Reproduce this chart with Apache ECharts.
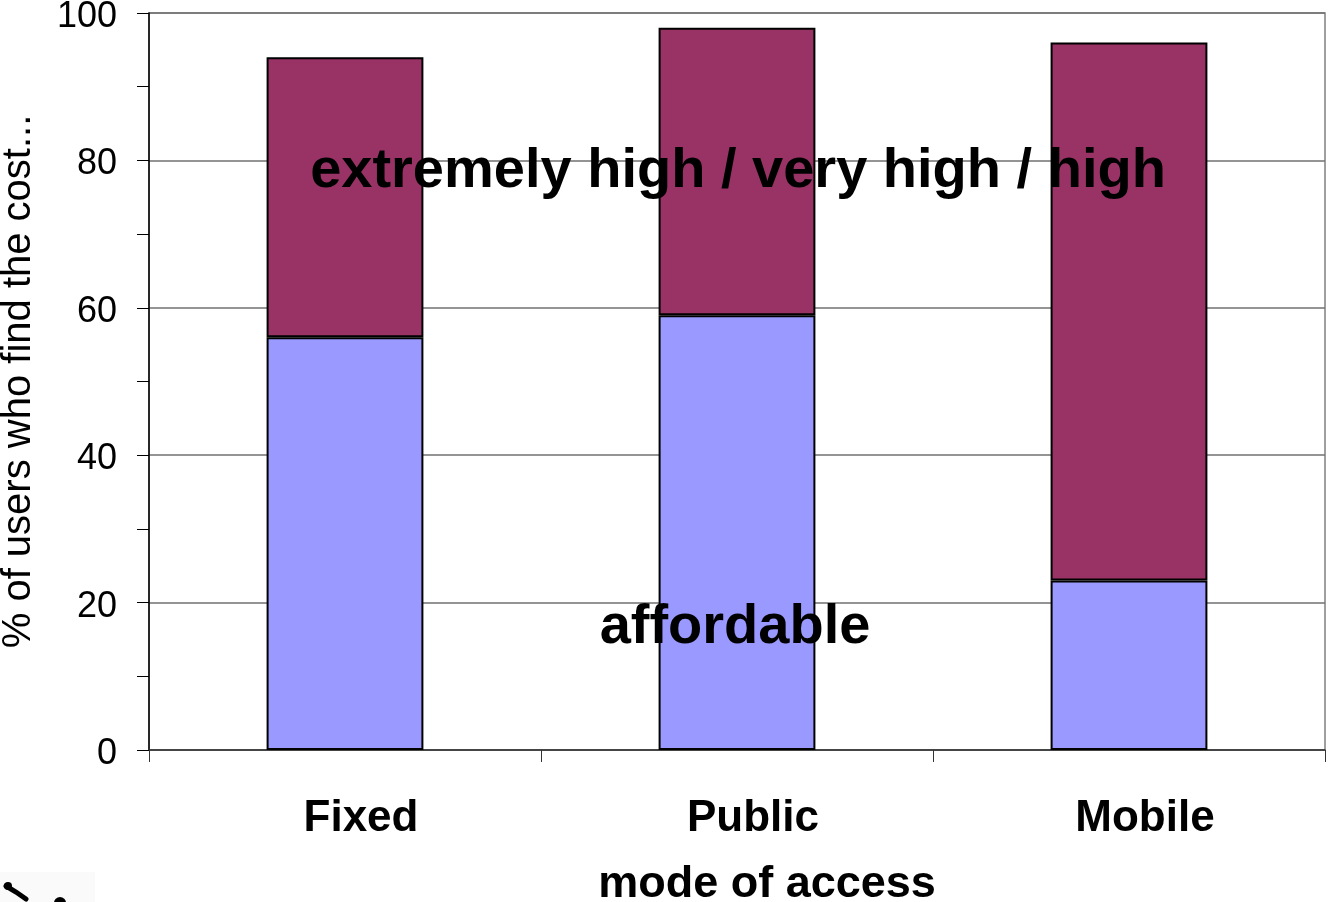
<!DOCTYPE html>
<html>
<head>
<meta charset="utf-8">
<title>Cost of access by mode</title>
<script src="https://cdn.jsdelivr.net/npm/echarts@6/dist/echarts.min.js"></script>
<style>
  html, body { margin: 0; padding: 0; background: #fff; }
  #chart { width: 1328px; height: 902px; }
</style>
</head>
<body>
<div id="chart"></div>
<script>
// Share of users by how they rate the cost, per access mode
const categories = ['Fixed', 'Public', 'Mobile'];
const affordable = [56, 59, 23];
const highCost = [38, 39, 73];
const yTicks = [0, 20, 40, 60, 80, 100];

const FONT = '"Liberation Sans", Arial, sans-serif';
const chart = echarts.init(document.getElementById('chart'), null, { renderer: 'canvas' });

const barStyle = (color) => ({ color: color, borderColor: '#000', borderWidth: 2 });

chart.setOption({
  animation: false,
  backgroundColor: '#fff',
  grid: {
    left: 149, right: 3, top: 13, bottom: 152,
    outerBoundsMode: 'none',
    containLabel: false,
    show: true, borderColor: '#808080', borderWidth: 1.5
  },
  xAxis: {
    type: 'category',
    data: categories,
    axisLine: { lineStyle: { color: '#333', width: 1.5 } },
    axisTick: { show: true, length: 12, lineStyle: { color: '#333', width: 1 } },
    axisLabel: {
      color: '#000', fontFamily: FONT, fontWeight: 'bold', fontSize: 44,
      margin: 47, padding: [0, 0, 0, 32]
    },
    name: 'mode of access',
    nameLocation: 'middle',
    nameGap: 112,
    nameTextStyle: {
      color: '#000', fontFamily: FONT, fontWeight: 'bold', fontSize: 45,
      padding: [0, 0, 0, 60]
    }
  },
  yAxis: {
    type: 'value',
    min: yTicks[0],
    max: yTicks[yTicks.length - 1],
    interval: 20,
    axisLine: { show: true, lineStyle: { color: '#000', width: 1.5 } },
    axisTick: { show: true, length: 12, lineStyle: { color: '#000', width: 1 } },
    minorTick: { show: true, splitNumber: 2, length: 12, lineStyle: { color: '#000', width: 1 } },
    splitLine: { show: true, lineStyle: { color: '#707070', width: 1.5 } },
    axisLabel: {
      color: '#000', fontFamily: FONT, fontSize: 36, margin: 32,
      verticalAlign: 'top', lineHeight: 8,
      formatter: (v) => (yTicks.indexOf(v) >= 0 ? String(v) : '')
    },
    name: '% of users who find the cost...',
    nameLocation: 'middle',
    nameGap: 110,
    nameRotate: 90,
    nameTextStyle: { color: '#000', fontFamily: FONT, fontSize: 40 }
  },
  series: [
    {
      name: 'affordable',
      type: 'bar',
      stack: 'cost',
      barWidth: '40%',
      data: affordable,
      itemStyle: barStyle('#9999FF')
    },
    {
      name: 'extremely high / very high / high',
      type: 'bar',
      stack: 'cost',
      barWidth: '40%',
      data: highCost,
      itemStyle: barStyle('#993366')
    }
  ],
  graphic: [
    {
      type: 'text', z: 100,
      style: {
        text: 'extremely high / very high / high',
        x: 738, y: 172, align: 'center', verticalAlign: 'middle',
        fill: '#000', font: 'bold 56px ' + FONT
      }
    },
    {
      type: 'text', z: 100,
      style: {
        text: 'affordable',
        x: 735, y: 628, align: 'center', verticalAlign: 'middle',
        fill: '#000', font: 'bold 56px ' + FONT
      }
    },
    // small logo fragment in the bottom-left corner
    {
      type: 'group', z: 100,
      children: [
        { type: 'rect', shape: { x: 0, y: 872, width: 95, height: 30 }, style: { fill: '#fafafa' } },
        { type: 'polyline', shape: { points: [[6, 886], [16, 892], [26, 899]] },
          style: { stroke: '#000', lineWidth: 5, lineCap: 'round', fill: null } },
        { type: 'circle', shape: { cx: 8, cy: 886, r: 4 }, style: { fill: '#000' } },
        { type: 'circle', shape: { cx: 60, cy: 903, r: 6 }, style: { fill: '#000' } }
      ]
    }
  ]
});
</script>
</body>
</html>
